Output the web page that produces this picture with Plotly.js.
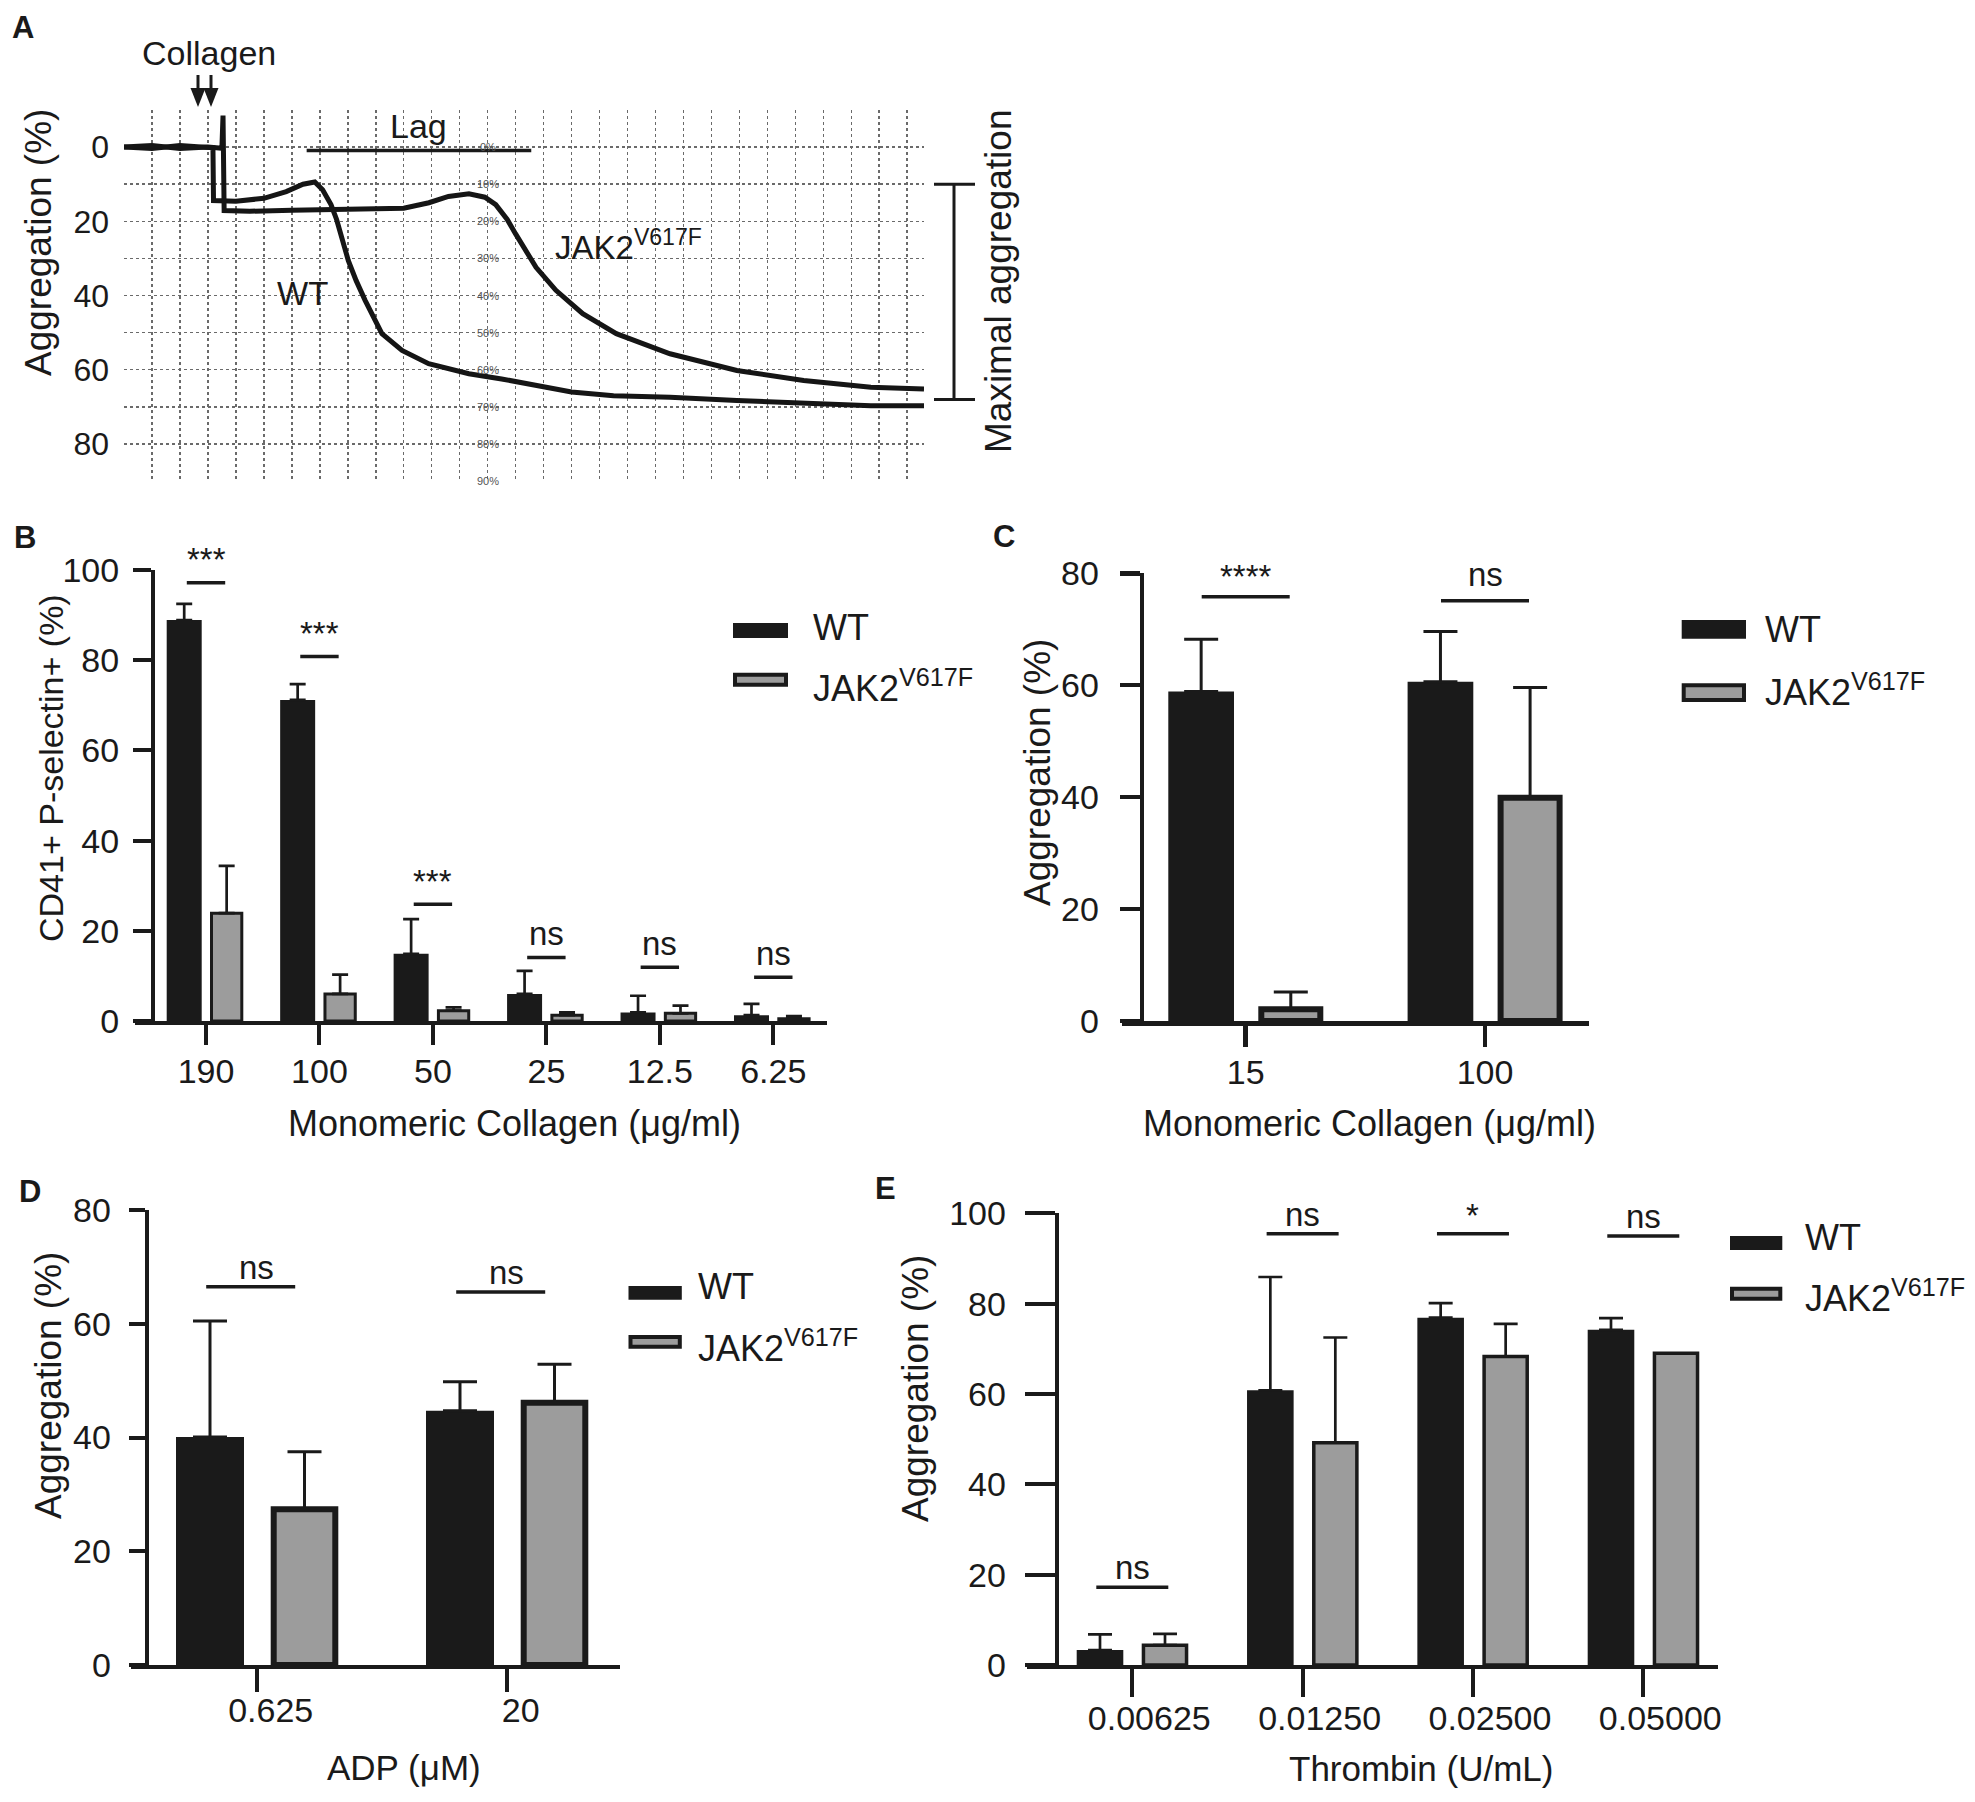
<!DOCTYPE html>
<html><head><meta charset="utf-8">
<script src="https://cdn.plot.ly/plotly-3.0.1.min.js"></script>
<style>html,body{margin:0;padding:0;background:#fff}</style>
</head><body><div id="chart" style="width:1975px;height:1802px"></div>
<script>
// ================= DATA =================
// Panel A – aggregometer traces (x: chart-paper divisions, y: aggregation %)
const aTimeWT = [0, 1, 2, 3.18, 3.2, 4.0, 5.0, 5.8, 6.4, 6.82, 7.1, 7.4, 7.6, 8.02, 8.3, 8.62, 9.22, 9.94, 10.89, 12.33, 13.5, 14.73, 16.0, 17.5, 19.52, 21.91, 24.3, 26.7, 28.6];
const aAggWT  = [0, 0.4, -0.4, 0.2, 14.4, 14.6, 13.8, 12.0, 10.0, 9.4, 11.5, 15.5, 19.5, 30.6, 36.0, 41.3, 50.3, 54.8, 58.4, 61.1, 62.5, 64.2, 66.0, 67.0, 67.4, 68.3, 69.0, 69.7, 69.7];
const aTimeJAK = [0, 1, 2, 3.0, 3.5, 3.54, 3.58, 4.5, 6.0, 8.0, 10.0, 10.9, 11.6, 12.33, 12.9, 13.29, 13.7, 14.0, 14.4, 14.73, 15.44, 16.4, 17.6, 19.52, 21.91, 24.3, 26.7, 28.6];
const aAggJAK  = [0, -0.4, 0.4, 0, 0.3, -8.5, 17.1, 17.3, 17.0, 16.8, 16.5, 15.0, 13.3, 12.6, 13.5, 15.5, 19.5, 23.4, 28.5, 32.4, 38.6, 44.9, 50.3, 55.7, 60.2, 62.9, 64.7, 65.2];
const aPaperPct = [0, 10, 20, 30, 40, 50, 60, 70, 80, 90];   // chart-paper % marks
const aLag = [6.53, 14.56];       // lag bar start / end (chart divisions)
const aMaxAgg = [10, 68];         // maximal-aggregation bracket (aggregation %)

const seriesNames = ['WT', 'JAK2<sup>V617F</sup>'];

// Panel B – CD41+ P-selectin+ (%)
const bCats   = ['190', '100', '50', '25', '12.5', '6.25'];
const bWT     = [88.9, 71.2, 14.9, 6.0, 1.9, 1.3];
const bWTerr  = [3.6, 3.5, 7.7, 5.1, 3.7, 2.5];
const bJAK    = [23.9, 6.0, 2.3, 1.3, 1.7, 0.5];
const bJAKerr = [10.5, 4.3, 0.7, 0.6, 1.7, 0.6];
const bSig    = ['***', '***', '***', 'ns', 'ns', 'ns'];
const bSigY   = [97.2, 80.8, 25.9, 14.1, 11.9, 9.7];

// Panel C – aggregation, monomeric collagen
const cCats   = ['15', '100'];
const cWT     = [58.9, 60.6];
const cWTerr  = [9.3, 9.0];
const cJAK    = [2.1, 39.9];
const cJAKerr = [3.1, 19.7];
const cSig    = ['****', 'ns'];
const cSigY   = [75.8, 75.1];

// Panel D – aggregation, ADP
const dCats   = ['0.625', '20'];
const dWT     = [40.1, 44.7];
const dWTerr  = [20.4, 5.1];
const dJAK    = [27.4, 46.1];
const dJAKerr = [10.1, 6.8];
const dSig    = ['ns', 'ns'];
const dSigY   = [66.5, 65.6];

// Panel E – aggregation, thrombin
const eCats   = ['0.00625', '0.01250', '0.02500', '0.05000'];
const eWT     = [3.3, 60.8, 76.9, 74.2];
const eWTerr  = [3.5, 25.1, 3.2, 2.6];
const eJAK    = [4.4, 49.2, 68.3, 69.0];
const eJAKerr = [2.5, 23.3, 7.2, 0];
const eSig    = ['ns', 'ns', '*', 'ns'];
const eSigY   = [17.2, 95.5, 95.5, 95.0];

// ================= STYLE / LAYOUT =================
const W = 1975, H = 1802;
const fx = p => p / W, fy = p => 1 - p / H;
const INK = '#1a1a1a', GRAY = '#9c9c9c';
const FONT = 'Liberation Sans, Arial, Helvetica, sans-serif';

const PB = {xa:'x2', ya:'y2', xdom:[135,827], ydom:[570,1021], yPos:153, tick0:206, unit:113.46, yMax:100,
  wt:[166.7,201.7], jak:[210,243.3], lw:3, axW:4, xTick:20, yTick:18, ySt:7, xSt:-3, cap:8, errT:2.7,
  sigHW:19.2, sigSh:0, nsShift:24, starShift:23, lblShift:0};
const PC = {xa:'x3', ya:'y3', xdom:[1121.7,1589], ydom:[573.3,1021], yPos:1141.7, tick0:1245.7, unit:239.3, yMax:80,
  wt:[1168.3,1234], jak:[1258.3,1323.3], lw:6, axW:4.5, xTick:21, yTick:20, ySt:14, xSt:-3, cap:17, errT:3,
  sigHW:44, sigSh:0, nsShift:26, starShift:20, lblShift:0};
const PD = {xa:'x4', ya:'y4', xdom:[130.7,620], ydom:[1210,1665], yPos:146.7, tick0:256.7, unit:250, yMax:80,
  wt:[176,244], jak:[270.7,338.3], lw:6, axW:4, xTick:23, yTick:16, ySt:11, xSt:-11, cap:17, errT:3,
  sigHW:44.5, sigSh:-6, nsShift:19.5, starShift:10, lblShift:14};
const PE = {xa:'x5', ya:'y5', xdom:[1026.7,1718.3], ydom:[1213.3,1665], yPos:1056.7, tick0:1132.3, unit:170.33, yMax:100,
  wt:[1076.7,1123.3], jak:[1141.7,1188.3], lw:3.5, axW:4, xTick:28, yTick:30, ySt:12, xSt:-8, cap:12, errT:2.7,
  sigHW:36, sigSh:0, nsShift:19.5, starShift:18, lblShift:17};

function geom(edge, p, lw) {
  return {offset: (edge[0] + lw / 2 - p.tick0) / p.unit, width: (edge[1] - edge[0] - lw) / p.unit};
}
function errSpec(err, p) {
  return {type:'data', symmetric:false, array:err, arrayminus:err.map(() => 0),
          color:INK, thickness:p.errT, width:p.cap};
}
function barTraces(cats, wt, wtErr, jak, jakErr, p) {
  const gw = geom(p.wt, p, 0), gj = geom(p.jak, p, p.lw);
  return [
    {type:'bar', x:cats, y:wt, xaxis:p.xa, yaxis:p.ya, offset:gw.offset, width:gw.width,
     marker:{color:INK, line:{width:0}}, error_y:errSpec(wtErr, p), showlegend:false, hoverinfo:'skip'},
    {type:'bar', x:cats, y:jak, xaxis:p.xa, yaxis:p.ya, offset:gj.offset, width:gj.width,
     marker:{color:GRAY, line:{color:INK, width:p.lw}}, error_y:errSpec(jakErr, p), showlegend:false, hoverinfo:'skip'}
  ];
}
function xAxisCfg(p) {
  return {domain:[fx(p.xdom[0]), fx(p.xdom[1])], type:'category',
    range:[(p.xdom[0] - p.tick0) / p.unit, (p.xdom[1] - p.tick0) / p.unit],
    anchor:p.ya, showline:true, linewidth:p.axW, linecolor:INK, ticks:'outside', ticklen:p.xTick,
    tickwidth:p.axW, tickcolor:INK, showgrid:false, zeroline:false, ticklabelshift:p.lblShift,
    ticklabelstandoff:p.xSt, tickfont:{size:34, family:FONT, color:INK}, fixedrange:true};
}
function yAxisCfg(p) {
  return {domain:[fy(p.ydom[1]), fy(p.ydom[0])], range:[0, p.yMax], anchor:'free', position:fx(p.yPos),
    showline:true, linewidth:p.axW, linecolor:INK, ticks:'outside', ticklen:p.yTick, tickwidth:p.axW,
    tickcolor:INK, tick0:0, dtick:20, showgrid:false, zeroline:false, ticklabelstandoff:p.ySt,
    tickfont:{size:34, family:FONT, color:INK}, fixedrange:true};
}
const shapes = [], annotations = [];
function sigMarks(labels, ys, p) {
  const hw = p.sigHW / p.unit, sh = p.sigSh / p.unit;
  labels.forEach((lab, i) => {
    shapes.push({type:'line', xref:p.xa, yref:p.ya, x0:i - hw + sh, x1:i + hw + sh, y0:ys[i], y1:ys[i],
                 line:{color:INK, width:3.5}});
    annotations.push({xref:p.xa, yref:p.ya, x:i, y:ys[i], text:lab, showarrow:false,
                      xanchor:'center', yanchor:'middle',
                      yshift: lab.indexOf('*') >= 0 ? p.starShift : p.nsShift,
                      font:{size:33, family:FONT, color:INK}});
  });
}
function txt(x, y, text, size, opts) {
  annotations.push(Object.assign({xref:'paper', yref:'paper', x:fx(x), y:fy(y), text:text, showarrow:false,
    xanchor:'center', yanchor:'middle', font:{size:size, family:FONT, color:INK}}, opts || {}));
}
function legendBlock(L) {
  shapes.push({type:'rect', xref:'paper', yref:'paper', x0:fx(L.wt[0]), x1:fx(L.wt[2]), y0:fy(L.wt[3]), y1:fy(L.wt[1]),
               fillcolor:INK, line:{width:0}});
  shapes.push({type:'rect', xref:'paper', yref:'paper', x0:fx(L.jk[0] + 2), x1:fx(L.jk[2] - 2), y0:fy(L.jk[3] - 2), y1:fy(L.jk[1] + 2),
               fillcolor:GRAY, line:{color:INK, width:4}});
  txt(L.tx, L.wy, seriesNames[0], 36, {xanchor:'left'});
  txt(L.tx, L.jy, seriesNames[1], 36, {xanchor:'left'});
}

// ---------- traces ----------
const traces = [
  {type:'scatter', mode:'lines', x:aTimeWT, y:aAggWT, xaxis:'x', yaxis:'y',
   line:{color:'#151515', width:5}, showlegend:false, hoverinfo:'skip'},
  {type:'scatter', mode:'lines', x:aTimeJAK, y:aAggJAK, xaxis:'x', yaxis:'y',
   line:{color:'#151515', width:5}, showlegend:false, hoverinfo:'skip'},
  ...barTraces(bCats, bWT, bWTerr, bJAK, bJAKerr, PB),
  ...barTraces(cCats, cWT, cWTerr, cJAK, cJAKerr, PC),
  ...barTraces(dCats, dWT, dWTerr, dJAK, dJAKerr, PD),
  ...barTraces(eCats, eWT, eWTerr, eJAK, eJAKerr, PE)
];

// ---------- significance ----------
sigMarks(bSig, bSigY, PB);
sigMarks(cSig, cSigY, PC);
sigMarks(dSig, dSigY, PD);
sigMarks(eSig, eSigY, PE);

// ---------- legends ----------
legendBlock({wt:[733,623,788,638], jk:[733,672.7,788,686.7], tx:810.7, wy:627, jy:686});
legendBlock({wt:[1681.7,620,1746,638.7], jk:[1681.7,683.3,1746,702], tx:1763.4, wy:629, jy:690});
legendBlock({wt:[628.5,1286,681.8,1299.7], jk:[628.5,1335,681.8,1348.8], tx:695.8, wy:1286, jy:1346});
legendBlock({wt:[1730,1236,1782.3,1250], jk:[1730,1286.7,1782.3,1300.7], tx:1802.7, wy:1237.5, jy:1296});

// ---------- panel A decorations ----------
shapes.push({type:'line', xref:'x', yref:'y', x0:aLag[0], x1:aLag[1], y0:0.9, y1:0.9, line:{color:INK, width:3.5}});
annotations.push({xref:'x', yref:'y', x:(aLag[0] + aLag[1]) / 2, y:-5.8, text:'Lag', showarrow:false,
                  xanchor:'center', yanchor:'middle', font:{size:34, family:FONT, color:INK}});
annotations.push({xref:'x', yref:'y', x:5.39, y:39.4, text:seriesNames[0], showarrow:false, xanchor:'left',
                  yanchor:'middle', font:{size:33, family:FONT, color:INK}});
annotations.push({xref:'x', yref:'y', x:15.33, y:26.5, text:seriesNames[1], showarrow:false, xanchor:'left',
                  yanchor:'middle', font:{size:33, family:FONT, color:INK}});
aPaperPct.forEach(v => annotations.push({xref:'x', yref:'y', x:13.0, y:v, text:v + '%',
  showarrow:false, xanchor:'center', yanchor:'middle', font:{size:11, family:FONT, color:'#555'}}));
// maximal aggregation bracket
shapes.push({type:'line', xref:'paper', yref:'y', x0:fx(954), x1:fx(954), y0:aMaxAgg[0], y1:aMaxAgg[1], line:{color:INK, width:3}});
shapes.push({type:'line', xref:'paper', yref:'y', x0:fx(934), x1:fx(975), y0:aMaxAgg[0], y1:aMaxAgg[0], line:{color:INK, width:3}});
shapes.push({type:'line', xref:'paper', yref:'y', x0:fx(934), x1:fx(975), y0:aMaxAgg[1], y1:aMaxAgg[1], line:{color:INK, width:3}});
txt(998, 282, 'Maximal aggregation', 37, {textangle:-90});
txt(209, 53, 'Collagen', 34);
// double arrow marking collagen addition
[198, 211].forEach(x => {
  shapes.push({type:'line', xref:'paper', yref:'paper', x0:fx(x), x1:fx(x), y0:fy(75), y1:fy(93), line:{color:INK, width:3}});
  shapes.push({type:'path', xref:'paper', yref:'paper', fillcolor:INK, line:{width:0},
    path:'M' + fx(x - 7.5) + ',' + fy(88) + ' L' + fx(x + 7.5) + ',' + fy(88) + ' L' + fx(x) + ',' + fy(107) + ' Z'});
});

// ---------- axis titles & panel letters ----------
txt(38, 243, 'Aggregation (%)', 37, {textangle:-90});
txt(51, 768, 'CD41+ P-selectin+ (%)', 34, {textangle:-90});
txt(514, 1123, 'Monomeric Collagen (μg/ml)', 36);
txt(1037, 773, 'Aggregation (%)', 37, {textangle:-90});
txt(1369, 1123, 'Monomeric Collagen (μg/ml)', 36);
txt(48, 1386, 'Aggregation (%)', 37, {textangle:-90});
txt(404, 1767, 'ADP (μM)', 35);
txt(915, 1389, 'Aggregation (%)', 37, {textangle:-90});
txt(1421, 1768, 'Thrombin (U/mL)', 35);
[['A',23,28],['B',25,537],['C',1004,536],['D',30,1191],['E',885,1188]].forEach(([t,x,y]) =>
  txt(x, y, '<b>' + t + '</b>', 31, {font:{size:31, family:'Arial, Liberation Sans, sans-serif', color:INK}}));

const gridStyle = {showgrid:true, gridcolor:'#6a6a6a', griddash:'dot', gridwidth:1.5};
const layout = {
  width:W, height:H, margin:{l:0, r:0, t:0, b:0}, paper_bgcolor:'#fff', plot_bgcolor:'rgba(0,0,0,0)',
  barmode:'overlay', showlegend:false, font:{family:FONT, color:INK},
  xaxis:Object.assign({domain:[fx(124), fx(924)], range:[0, 28.6], anchor:'y', tick0:0, dtick:1,
         showticklabels:false, ticks:'', zeroline:false, showline:false, fixedrange:true}, gridStyle),
  yaxis:Object.assign({domain:[fy(481), fy(110)], range:[90, -10], anchor:'x', tick0:0, dtick:20,
         minor:Object.assign({tick0:0, dtick:10}, gridStyle),
         ticks:'', zeroline:false, showline:false, ticklabelstandoff:14,
         tickfont:{size:32, family:FONT, color:INK}, fixedrange:true}, gridStyle),
  xaxis2:xAxisCfg(PB), yaxis2:yAxisCfg(PB),
  xaxis3:xAxisCfg(PC), yaxis3:yAxisCfg(PC),
  xaxis4:xAxisCfg(PD), yaxis4:yAxisCfg(PD),
  xaxis5:xAxisCfg(PE), yaxis5:yAxisCfg(PE),
  shapes:shapes, annotations:annotations
};
Plotly.newPlot('chart', traces, layout, {displayModeBar:false, staticPlot:true});
</script></body></html>
